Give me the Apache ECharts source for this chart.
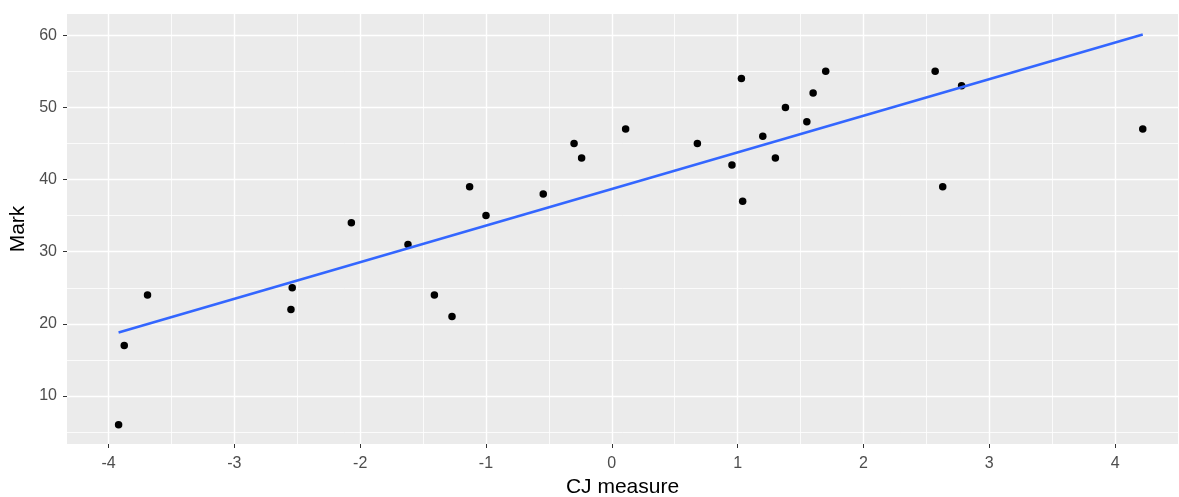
<!DOCTYPE html>
<html>
<head>
<meta charset="utf-8">
<script src="https://cdn.jsdelivr.net/npm/echarts@6/dist/echarts.min.js"></script>
<style>
  html, body { margin: 0; padding: 0; background: #fff; }
  #chart { width: 1179px; height: 497px; }
</style>
</head>
<body>
<div id="chart"></div>
<script>
// CJ measure vs Mark
const cjMeasure = [-3.92, -3.875, -3.69, -2.55, -2.54, -2.07, -1.62, -1.41, -1.27, -1.13,
  -1.0, -0.545, -0.30, -0.24, 0.11, 0.68, 0.955, 1.03, 1.04, 1.20,
  1.30, 1.38, 1.55, 1.60, 1.70, 2.57, 2.63, 2.78, 4.22];
const marks = [6, 17, 24, 22, 25, 34, 31, 24, 21, 39,
  35, 38, 45, 43, 47, 45, 42, 54, 37, 46,
  43, 50, 48, 52, 55, 55, 39, 53, 47];

// fitted line end points
const fitX = [-3.92, 4.22];
const fitY = [18.8, 60.1];

const xTicks = [-4, -3, -2, -1, 0, 1, 2, 3, 4];
const xMinor = [-3.5, -2.5, -1.5, -0.5, 0.5, 1.5, 2.5, 3.5];
const yTicks = [10, 20, 30, 40, 50, 60];
const yMinor = [5, 15, 25, 35, 45, 55];

const chart = echarts.init(document.getElementById('chart'));

const tickText = { color: '#4D4D4D', fontSize: 16, fontFamily: 'Liberation Sans' };
const titleText = { color: '#000', fontSize: 21, fontFamily: 'Liberation Sans' };

const option = {
  animation: false,
  backgroundColor: '#fff',
  grid: {
    left: 67, right: 1, top: 14, bottom: 53,
    outerBoundsMode: 'none',
    containLabel: false,
    show: true,
    backgroundColor: '#EBEBEB',
    borderWidth: 0
  },
  xAxis: [
    {
      type: 'value',
      min: -4.33,
      max: 4.5,
      name: 'CJ measure',
      nameLocation: 'middle',
      nameGap: 31,
      nameTextStyle: titleText,
      axisLine: { show: false, onZero: false },
      axisTick: { show: true, length: 4, customValues: xTicks, lineStyle: { color: '#333333', width: 1 } },
      axisLabel: { margin: 12, customValues: xTicks, ...tickText },
      splitLine: { show: true, lineStyle: { color: '#fff', width: 1.4 } }
    },
    {
      type: 'value',
      min: -4.33,
      max: 4.5,
      position: 'bottom',
      axisLine: { show: false, onZero: false },
      axisTick: { show: false, customValues: xMinor },
      axisLabel: { show: false, customValues: xMinor },
      splitLine: { show: true, lineStyle: { color: '#fff', width: 0.8 } }
    }
  ],
  yAxis: [
    {
      type: 'value',
      min: 3.34,
      max: 62.95,
      name: 'Mark',
      nameLocation: 'middle',
      nameGap: 33,
      nameTextStyle: titleText,
      axisLine: { show: false, onZero: false },
      axisTick: { show: true, length: 4, customValues: yTicks, lineStyle: { color: '#333333', width: 1 } },
      axisLabel: { margin: 10, customValues: yTicks, ...tickText },
      splitLine: { show: true, lineStyle: { color: '#fff', width: 1.4 } }
    },
    {
      type: 'value',
      min: 3.34,
      max: 62.95,
      position: 'left',
      axisLine: { show: false, onZero: false },
      axisTick: { show: false, customValues: yMinor },
      axisLabel: { show: false, customValues: yMinor },
      splitLine: { show: true, lineStyle: { color: '#fff', width: 0.8 } }
    }
  ],
  series: [
    {
      type: 'scatter',
      symbolSize: 7.5,
      itemStyle: { color: '#000', opacity: 1 },
      data: cjMeasure.map((x, i) => [x, marks[i]]),
      z: 3
    },
    {
      type: 'line',
      showSymbol: false,
      lineStyle: { color: '#3366FF', width: 2.5 },
      data: fitX.map((x, i) => [x, fitY[i]]),
      z: 4
    }
  ]
};

chart.setOption(option);
</script>
</body>
</html>
